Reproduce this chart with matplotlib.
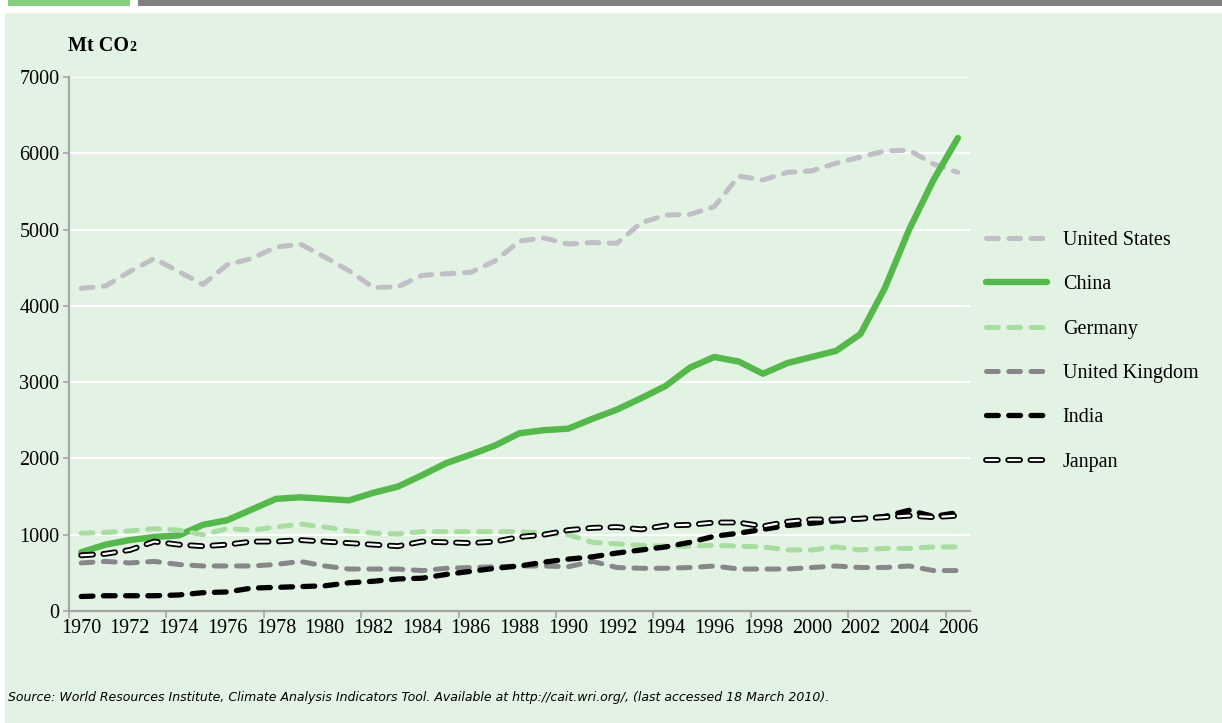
import matplotlib
matplotlib.use("Agg")
import matplotlib.pyplot as plt
from matplotlib.patches import Rectangle
from matplotlib.ticker import MultipleLocator, FixedLocator

plt.rcParams["font.family"] = ["Liberation Serif", "DejaVu Serif"]
plt.rcParams["lines.scale_dashes"] = False

years = list(range(1970, 2007))
tick_years = list(range(1970, 2007, 2))

us = [4230, 4260, 4450, 4620, 4450, 4280, 4540, 4620, 4770, 4810,
      4640, 4460, 4240, 4250, 4400, 4420, 4440, 4590, 4850, 4890,
      4810, 4830, 4820, 5090, 5190, 5200, 5300, 5700, 5650, 5750,
      5770, 5870, 5950, 6030, 6040, 5860, 5750]
china = [770, 870, 930, 970, 990, 1130, 1190, 1330, 1470, 1490,
         1470, 1450, 1550, 1630, 1780, 1940, 2050, 2170, 2330, 2370,
         2390, 2520, 2640, 2790, 2950, 3190, 3330, 3270, 3110, 3250,
         3330, 3410, 3630, 4230, 5000, 5650, 6200]
germany = [1020, 1030, 1050, 1080, 1060, 1000, 1080, 1060, 1100, 1140,
           1100, 1050, 1020, 1010, 1040, 1040, 1040, 1040, 1040, 1020,
           1000, 900, 880, 860, 850, 850, 860, 850, 840, 800,
           800, 840, 800, 820, 820, 840, 840]
uk = [630, 650, 630, 650, 610, 590, 590, 590, 610, 650,
      590, 550, 550, 550, 530, 560, 570, 580, 590, 590,
      580, 650, 570, 560, 560, 570, 590, 550, 550, 550,
      570, 590, 570, 570, 590, 530, 530]
india = [190, 200, 200, 200, 210, 240, 250, 300, 310, 320,
         330, 370, 390, 420, 430, 480, 520, 560, 590, 640,
         680, 710, 760, 800, 840, 900, 980, 1020, 1070, 1120,
         1150, 1180, 1210, 1240, 1320, 1240, 1290]
japan = [730, 750, 800, 910, 870, 850, 870, 910, 910, 930,
         910, 890, 870, 850, 910, 900, 890, 910, 970, 1000,
         1060, 1090, 1100, 1070, 1120, 1130, 1160, 1160, 1110, 1170,
         1200, 1200, 1210, 1230, 1250, 1230, 1250]

W, H = 1222, 723
fig = plt.figure(figsize=(W / 100, H / 100), dpi=100, facecolor="white")

# panel and header strips, kept below the axes
fig.patches.append(Rectangle((5 / W, 0), 1, 1 - 13 / H, transform=fig.transFigure,
                             facecolor="#e3f3e3", edgecolor="none", zorder=-5))
fig.patches.append(Rectangle((8 / W, 1 - 6 / H), 122 / W, 6 / H, transform=fig.transFigure,
                             facecolor="#85cf7e", edgecolor="none", zorder=-5))
fig.patches.append(Rectangle((138 / W, 1 - 6 / H), 1, 6 / H, transform=fig.transFigure,
                             facecolor="#808080", edgecolor="none", zorder=-5))

ax = fig.add_axes([69 / W, 1 - 611 / H, 901 / W, 534 / H])
ax.set_facecolor("none")

dash = (8.5, 7.5)
h_us, = ax.plot(years, us, color="#c0bfc5", lw=3.6, dashes=dash,
                dash_capstyle="round")
h_cn, = ax.plot(years, china, color="#55b84a", lw=4.6,
                solid_capstyle="round", solid_joinstyle="round")
h_de, = ax.plot(years, germany, color="#a8dca0", lw=3.6, dashes=dash,
                dash_capstyle="round")
h_uk, = ax.plot(years, uk, color="#87878a", lw=3.6, dashes=dash,
                dash_capstyle="round")
h_in, = ax.plot(years, india, color="black", lw=3.8, dashes=dash,
                dash_capstyle="round")
h_jp1, = ax.plot(years, japan, color="black", lw=4.2, dashes=dash,
                 dash_capstyle="round")
h_jp2, = ax.plot(years, japan, color="white", lw=1.6, dashes=dash,
                 dash_capstyle="round")

ax.set_xlim(1969.5, 2006.5)
ax.set_ylim(0, 7000)
ax.yaxis.set_major_locator(MultipleLocator(1000))
ax.set_xticks(tick_years)
ax.set_xticklabels([str(y) for y in tick_years])
ax.xaxis.set_minor_locator(FixedLocator([1969.5 + 4 * k for k in range(10)]))
ax.tick_params(axis="x", which="major", length=0, pad=6, labelsize=14.5)
ax.tick_params(axis="x", which="minor", length=5, width=1.2, color="#a6a6a6")
ax.tick_params(axis="y", length=4, width=1.2, color="#a6a6a6", pad=3, labelsize=14.5)
ax.grid(axis="y", color="white", lw=1.4)
ax.set_axisbelow(True)
for side in ["top", "right"]:
    ax.spines[side].set_visible(False)
for side in ["left", "bottom"]:
    ax.spines[side].set_color("#a6a6a6")
    ax.spines[side].set_linewidth(1.6)

t = fig.text(68 / W, 1 - 46 / H, "Mt CO", fontsize=14.5, fontweight="bold",
             va="center", ha="left")
ax.annotate("2", xy=(1, 0.1), xycoords=t, fontsize=10, fontweight="bold",
            va="bottom", ha="left", annotation_clip=False)

leg = fig.legend([h_us, h_cn, h_de, h_uk, h_in, (h_jp1, h_jp2)],
                 ["United States", "China", "Germany", "United Kingdom", "India", "Janpan"],
                 loc="upper left", bbox_to_anchor=(968 / W, 1 - 213 / H),
                 frameon=False, fontsize=14.5, handlelength=3.0, handletextpad=0.8,
                 labelspacing=1.25)

fig.text(8 / W, 1 - 698 / H,
         "Source: World Resources Institute, Climate Analysis Indicators Tool. "
         "Available at http://cait.wri.org/, (last accessed 18 March 2010).",
         fontsize=9, style="italic", va="center", ha="left",
         family=["DejaVu Sans"])

fig.savefig("out.png", dpi=100, facecolor="white")
